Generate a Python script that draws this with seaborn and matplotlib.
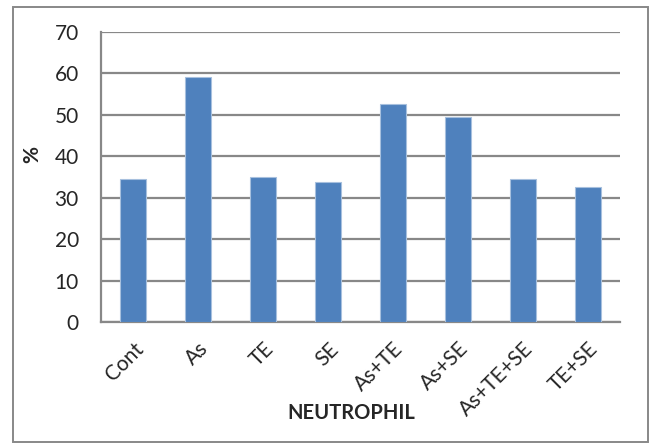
import matplotlib
matplotlib.use("Agg")
import matplotlib.pyplot as plt
from matplotlib.patches import Rectangle
import seaborn as sns
import pandas as pd

# Neutrophil percentage per treatment group
groups = ["Cont", "As", "TE", "SE", "As+TE", "As+SE", "As+TE+SE", "TE+SE"]
neutrophil_pct = [34.5, 59.1, 34.9, 33.7, 52.6, 49.5, 34.5, 32.6]
y_ticks = [0, 10, 20, 30, 40, 50, 60, 70]

df = pd.DataFrame({"group": groups, "pct": neutrophil_pct})

sns.set_style("white")
plt.rcParams["font.family"] = ["Lato", "DejaVu Sans"]

fig = plt.figure(figsize=(6.51, 4.44), dpi=100)
ax = fig.add_axes([101 / 651, 1 - 322 / 444, 519 / 651, 290 / 444])

grid_col = "#888888"
bar_col = "#4F81BD"

sns.barplot(data=df, x="group", y="pct", color=bar_col, width=0.4,
            edgecolor="#A7C0DE", linewidth=0.8, saturation=1, ax=ax, zorder=3)

ax.set_ylim(0, 70)
ax.set_xlim(-0.5, len(groups) - 0.5)
ax.set_yticks(y_ticks)
ax.set_yticklabels([str(t) for t in y_ticks], fontsize=15)
ax.yaxis.grid(True, color=grid_col, linewidth=1.6, zorder=0)
ax.set_axisbelow(True)

for side in ("top", "right"):
    ax.spines[side].set_visible(False)
for side in ("left", "bottom"):
    ax.spines[side].set_color(grid_col)
    ax.spines[side].set_linewidth(1.6)

ax.tick_params(axis="y", which="major", direction="out", length=6,
               width=1.6, color=grid_col, pad=10)
ax.set_xticks(range(len(groups)))
ax.set_xticklabels(groups, rotation=45, ha="right", va="top",
                   rotation_mode="anchor", fontsize=15)
ax.tick_params(axis="x", which="major", length=0, pad=12)
ax.set_xticks([i - 0.5 for i in range(len(groups) + 1)], minor=True)
ax.tick_params(axis="x", which="minor", direction="out", length=6,
               width=1.6, color=grid_col)

ax.set_xlabel("NEUTROPHIL", fontsize=14.5, fontweight="bold")
ax.xaxis.label.set_va("center")
ax.xaxis.set_label_coords(0.482, -0.314)
ax.set_ylabel("%", fontsize=15, fontweight="bold")
ax.yaxis.label.set_va("center")
ax.yaxis.set_label_coords(-0.132, 0.576)

# chart frame around the whole figure
fig.patches.append(Rectangle((12.5 / 651, 2.5 / 444), 635.5 / 651, 434.5 / 444,
                             transform=fig.transFigure, fill=False,
                             edgecolor="#888888", linewidth=1.4))

fig.savefig("out.png", dpi=100)
